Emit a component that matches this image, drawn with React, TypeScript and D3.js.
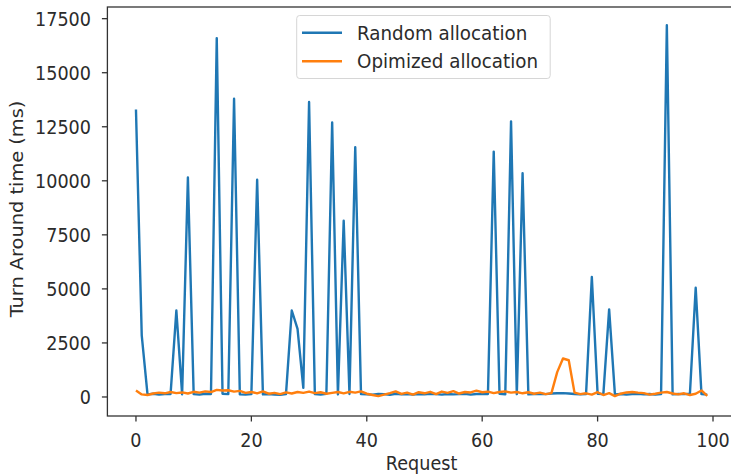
import React from "react";
import * as d3 from "d3";

const requests: number[] = Array.from({ length: 100 }, (_, i) => i);

const randomAllocation: number[] = [
  13300, 2850, 120, 150, 110, 130, 140, 4000, 120, 10150,
  130, 110, 150, 140, 16600, 150, 130, 13800, 120, 110,
  130, 10050, 120, 140, 110, 100, 130, 4000, 3150, 420,
  13650, 130, 110, 150, 12700, 120, 8150, 140, 11550, 130,
  120, 110, 140, 130, 100, 150, 120, 130, 110, 140,
  120, 150, 130, 110, 140, 120, 130, 150, 110, 140,
  130, 140, 11350, 150, 120, 12750, 130, 10350, 120, 140,
  150, 130, 160, 170, 180, 160, 140, 120, 130, 5550,
  150, 130, 4050, 120, 140, 110, 130, 150, 120, 140,
  110, 130, 17200, 120, 140, 130, 150, 5050, 130, 110,
];

const optimizedAllocation: number[] = [
  300, 120, 90, 160, 200, 170, 230, 180, 210, 160,
  240, 200, 260, 230, 330, 300, 310, 250, 280, 190,
  230, 170, 260, 150, 190, 130, 210, 160, 230, 190,
  250, 180, 220, 150, 190, 230, 170, 240, 200, 260,
  150, 90, 40, 110, 180, 260, 140, 200, 110, 220,
  170, 240, 130, 250, 190, 270, 160, 230, 210, 290,
  220, 250, 180, 230, 260, 200, 230, 170, 220, 150,
  200, 130, 180, 1150, 1780, 1700, 200, 130, 170, 110,
  220, 90, 180, 40, 150, 210, 230, 200, 180, 110,
  150, 200, 230, 160, 120, 170, 90, 150, 300, 50,
];

const xTicks: number[] = [0, 20, 40, 60, 80, 100];
const yTicks: number[] = [0, 2500, 5000, 7500, 10000, 12500, 15000, 17500];

const seriesNames = ["Random allocation", "Opimized allocation"];
const seriesColors = ["#1f77b4", "#ff7f0e"];

export default function App() {
  const W = 731;
  const H = 476;
  const left = 107.4;
  const right = 735.8;
  const top = 7;
  const bottom = 416;

  const x = d3.scaleLinear().domain([-4.95, 103.95]).range([left, right]);
  const y = d3.scaleLinear().domain([-880, 18040]).range([bottom, top]);

  const line = d3
    .line<number>()
    .x((_, i) => x(requests[i]))
    .y((d) => y(d));

  const font = "'DejaVu Sans', sans-serif";
  const fs = 17.6;
  const sy = 1.1;
  const textColor = "#2b2b2b";
  const axisColor = "#333";

  return (
    <svg
      width={W}
      height={H}
      style={{ position: "absolute", left: 0, top: 0, background: "#fff" }}
      fontFamily={font}
    >
      <rect x={0} y={0} width={W} height={H} fill="#fff" />
      <defs>
        <clipPath id="plot">
          <rect x={left} y={top} width={right - left} height={bottom - top} />
        </clipPath>
      </defs>
      <g clipPath="url(#plot)">
        <path d={line(randomAllocation) || ""} fill="none" stroke={seriesColors[0]} strokeWidth={2.4} strokeLinejoin="round" />
        <path d={line(optimizedAllocation) || ""} fill="none" stroke={seriesColors[1]} strokeWidth={2.4} strokeLinejoin="round" />
      </g>
      {/* spines */}
      <rect x={left} y={top} width={right - left} height={bottom - top} fill="none" stroke={axisColor} strokeWidth={1.3} />
      {/* x ticks */}
      {xTicks.map((t) => (
        <g key={"x" + t}>
          <line x1={x(t)} x2={x(t)} y1={bottom} y2={bottom + 5.5} stroke={axisColor} strokeWidth={1.3} />
          <text transform={`translate(${x(t)}, 446.5) scale(1, ${sy})`} textAnchor="middle" fontSize={fs} fill={textColor}>
            {t}
          </text>
        </g>
      ))}
      {/* y ticks */}
      {yTicks.map((t) => (
        <g key={"y" + t}>
          <line x1={left - 5.5} x2={left} y1={y(t)} y2={y(t)} stroke={axisColor} strokeWidth={1.3} />
          <text transform={`translate(91, ${y(t) + 7}) scale(1, ${sy})`} textAnchor="end" fontSize={fs} fill={textColor}>
            {t}
          </text>
        </g>
      ))}
      <text transform={`translate(${(left + right) / 2}, 469.5) scale(1, ${sy})`} textAnchor="middle" fontSize={fs} fill={textColor}>
        Request
      </text>
      <text
        transform={`translate(23, 209) scale(1, ${sy}) rotate(-90)`}
        textAnchor="middle"
        fontSize={fs}
        fill={textColor}
      >
        Turn Around time (ms)
      </text>
      {/* legend */}
      <rect x={296.7} y={15.5} width={253.5} height={63} rx={3} fill="#fff" fillOpacity={0.8} stroke="#d6d6d6" strokeWidth={1} />
      {seriesNames.map((name, i) => (
        <g key={name}>
          <line x1={302} x2={342} y1={32.7 + i * 28.5} y2={32.7 + i * 28.5} stroke={seriesColors[i]} strokeWidth={2.4} />
          <text transform={`translate(357, ${32.7 + i * 28.5 + 7}) scale(1, ${sy})`} fontSize={18.3} fill={textColor}>
            {name}
          </text>
        </g>
      ))}
    </svg>
  );
}
